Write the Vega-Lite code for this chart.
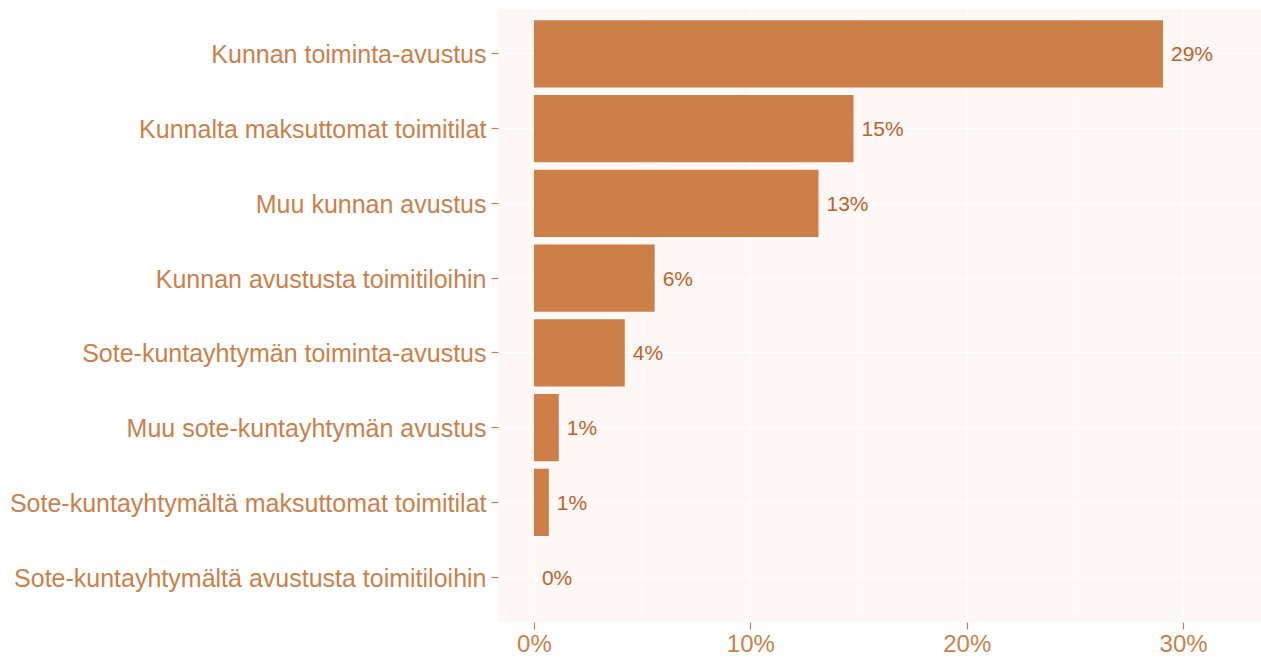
{
  "$schema": "https://vega.github.io/schema/vega-lite/v6.json",
  "width": 763,
  "height": 613,
  "autosize": {"type": "none"},
  "padding": {"left": 498, "top": 9, "right": 0, "bottom": 36},
  "background": "#FFFFFF",
  "view": {"fill": "#FDF8F5", "stroke": null},
  "data": {"values": [
    {"cat": "Kunnan toiminta-avustus", "v": 29.07, "lab": "29%"},
    {"cat": "Kunnalta maksuttomat toimitilat", "v": 14.77, "lab": "15%"},
    {"cat": "Muu kunnan avustus", "v": 13.15, "lab": "13%"},
    {"cat": "Kunnan avustusta toimitiloihin", "v": 5.58, "lab": "6%"},
    {"cat": "Sote-kuntayhtymän toiminta-avustus", "v": 4.2, "lab": "4%"},
    {"cat": "Muu sote-kuntayhtymän avustus", "v": 1.15, "lab": "1%"},
    {"cat": "Sote-kuntayhtymältä maksuttomat toimitilat", "v": 0.69, "lab": "1%"},
    {"cat": "Sote-kuntayhtymältä avustusta toimitiloihin", "v": 0, "lab": "0%"}
  ]},
  "encoding": {
    "y": {
      "field": "cat", "type": "nominal", "sort": null,
      "scale": {"paddingInner": 0.1, "paddingOuter": 0.15},
      "axis": {
        "title": null, "domain": false, "grid": true, "gridColor": "#FFFFFF", "gridWidth": 1,
        "tickColor": "#CD7F4A", "tickSize": 7, "tickWidth": 1.2, "labelPadding": 5,
        "labelOffset": 1.5,
        "labelFont": "Liberation Sans", "labelFontSize": 25, "labelColor": "#CD7F4A",
        "labelLimit": 600
      }
    },
    "x": {
      "field": "v", "type": "quantitative",
      "scale": {"domain": [-1.66, 33.6], "nice": false, "zero": false},
      "axis": {
        "title": null, "domain": false, "values": [0, 5, 10, 15, 20, 25, 30],
        "labelExpr": "datum.value % 10 == 0 ? datum.value + '%' : ''",
        "grid": true, "gridColor": "#FFFFFF",
        "gridWidth": {"condition": {"test": "datum.value % 10 == 0", "value": 1.2}, "value": 0.6},
        "tickColor": "#CD7F4A", "tickSize": 7, "tickWidth": 1.2,
        "tickOpacity": {"condition": {"test": "datum.value % 10 == 0", "value": 1}, "value": 0},
        "labelPadding": 3, "labelFont": "Liberation Sans", "labelFontSize": 24,
        "labelColor": "#CD7F4A", "labelFlush": false
      }
    }
  },
  "layer": [
    {"mark": {"type": "bar", "color": "#CD7F4A"}},
    {
      "mark": {"type": "text", "align": "left", "baseline": "middle", "dx": 8, "dy": 1.5, "font": "Liberation Sans", "fontSize": 21, "color": "#C2612A"},
      "encoding": {"text": {"field": "lab"}}
    }
  ]
}
